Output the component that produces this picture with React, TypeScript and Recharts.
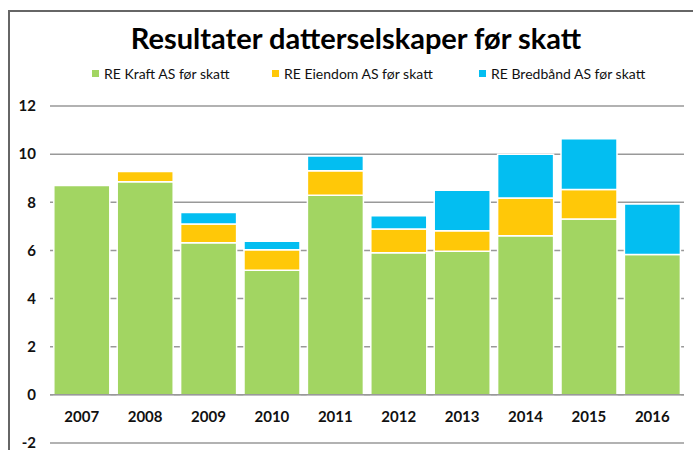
import { BarChart, Bar, XAxis, YAxis, CartesianGrid, ReferenceLine } from 'recharts';

const years = ['2007', '2008', '2009', '2010', '2011', '2012', '2013', '2014', '2015', '2016'];
const kraft = [8.7, 8.85, 6.32, 5.18, 8.29, 5.9, 5.97, 6.61, 7.31, 5.83];
const eiendom = [0, 0.43, 0.78, 0.85, 1.02, 0.99, 0.85, 1.57, 1.22, 0];
const bredband = [0, 0, 0.48, 0.35, 0.61, 0.55, 1.68, 1.82, 2.11, 2.1];
const yTicks = [-2, 0, 2, 4, 6, 8, 10, 12];

const seriesNames = ['RE Kraft AS før skatt', 'RE Eiendom AS før skatt', 'RE Bredbånd AS før skatt'];
const colors = ['#A2D562', '#FFC808', '#03BEF1'];

const data = years.map((year, i) => ({
  year,
  kraft: kraft[i],
  eiendom: eiendom[i],
  bredband: bredband[i],
}));

const font = 'Lato, "Open Sans", sans-serif';

// year labels sit between the 0 line and the -2 line, like Excel does
const YearTick = (props: any) => {
  const { x, payload } = props;
  return (
    <text x={x} y={418} textAnchor="middle" dominantBaseline="middle"
      fontFamily={font} fontWeight={700} fontSize={15} fill="#111">
      {payload.value}
    </text>
  );
};

const legendX = [92, 272, 479];

export default function App() {
  return (
    <div style={{ position: 'absolute', left: 0, top: 0, width: 693, height: 450, overflow: 'hidden', background: '#fff' }}>
      {/* chart frame */}
      <div style={{ position: 'absolute', left: 8, top: 10, width: 720, height: 480, border: '2px solid #666' }} />
      <div style={{ position: 'absolute', left: 0, top: 20, width: 712, textAlign: 'center', fontFamily: font, fontWeight: 700, fontSize: 29, color: '#000', lineHeight: '36px' }}>
        Resultater datterselskaper før skatt
      </div>
      {seriesNames.map((name, i) => (
        <div key={name} style={{ position: 'absolute', left: legendX[i], top: 64, height: 18, display: 'flex', alignItems: 'center', fontFamily: font, fontSize: 14, color: '#111' }}>
          <span style={{ display: 'inline-block', width: 7, height: 7, background: colors[i], marginRight: 5 }} />
          {name}
        </div>
      ))}
      <div style={{ position: 'absolute', left: 0, top: 0 }}>
        <BarChart width={693} height={450} data={data} barCategoryGap="6%"
          margin={{ top: 106, right: 9, bottom: 0, left: 0 }}>
          <CartesianGrid vertical={false} stroke="#999" strokeWidth={1.5} />
          <XAxis dataKey="year" height={7} axisLine={false} tickLine={false} tick={<YearTick />} interval={0} />
          <YAxis domain={[-2, 12]} ticks={yTicks} interval={0} width={50} axisLine={false} tickLine={false} tickMargin={8}
            tick={{ fontFamily: font, fontWeight: 700, fontSize: 15, fill: '#111' }} />
          <ReferenceLine y={0} stroke="#999" strokeWidth={1.5} />
          <Bar dataKey="kraft" name={seriesNames[0]} stackId="a" fill={colors[0]} stroke="#fff" strokeWidth={1.5} isAnimationActive={false} />
          <Bar dataKey="eiendom" name={seriesNames[1]} stackId="a" fill={colors[1]} stroke="#fff" strokeWidth={1.5} isAnimationActive={false} />
          <Bar dataKey="bredband" name={seriesNames[2]} stackId="a" fill={colors[2]} stroke="#fff" strokeWidth={1.5} isAnimationActive={false} />
        </BarChart>
      </div>
    </div>
  );
}
